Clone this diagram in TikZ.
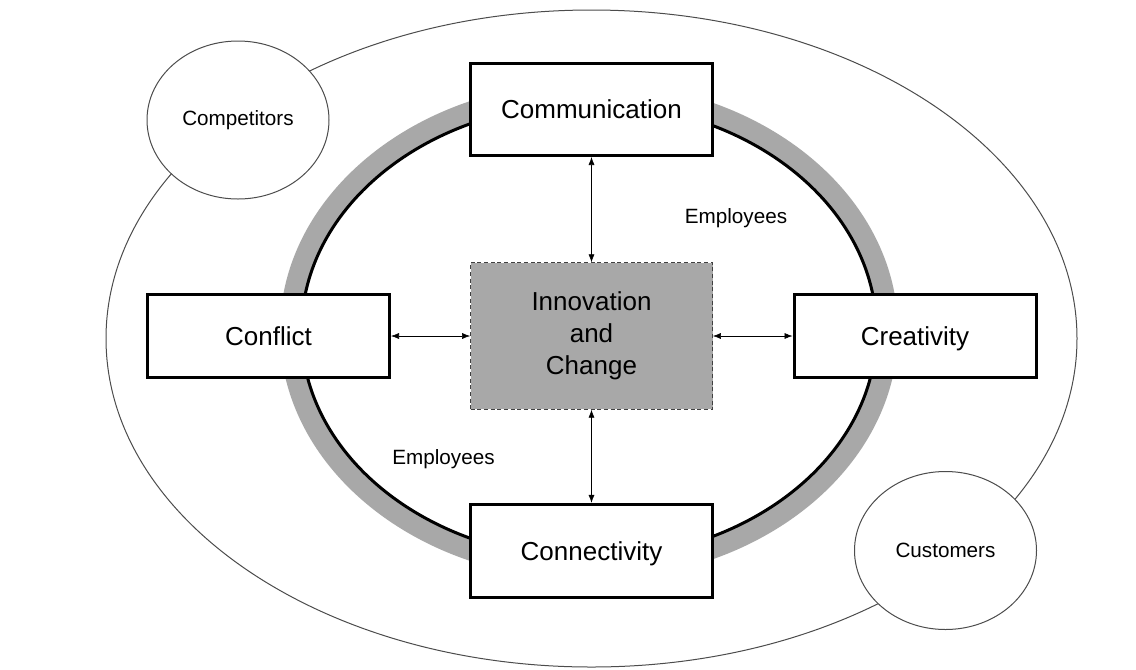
\documentclass[tikz,border=0pt]{standalone}
\usepackage{fontspec}
\setmainfont{Liberation Sans}
\usetikzlibrary{shapes.geometric,arrows.meta}
\definecolor{ringgray}{HTML}{A8A8A8}
\tikzstyle{block} = [draw, line width=2.25pt, fill=white, minimum width=181.5pt, inner sep=2pt, text height=16pt, text depth=2pt, font=\fontsize{19.5}{24}\selectfont]
\tikzstyle{party} = [draw=black!70, line width=.75pt, fill=white, shape=ellipse, minimum width=136.5pt, minimum height=118.5pt, inner sep=0pt, font=\fontsize{15.5}{18}\selectfont]
\tikzstyle{hub} = [draw=black!75, densely dashed, line width=.6pt, fill=ringgray, minimum width=181.5pt, minimum height=110pt, align=center, font=\fontsize{19.5}{24}\selectfont]
\tikzstyle{tag} = [font=\fontsize{15.5}{18}\selectfont]

\begin{document}
\begin{tikzpicture}[x=.75pt,y=-.75pt,>={Latex[length=6pt,width=4.5pt]}]
    \useasboundingbox (0,0) rectangle (1136,669);
    % environment and ring
    \draw [black!70, line width=.75pt, fill=white] (591.5,338.5) ellipse (485.5 and 328.5);
    \fill [ringgray] (589,331) ellipse (309 and 249);
    \draw [line width=2.25pt, fill=white] (589,331) ellipse (287.5 and 227.5);
    \draw (238,120) node[party] (comp) {Competitors};
    \draw (945.5,550.5) node[party] (cust) {Customers};
    % the four Cs
    \draw (591.5,109.5) node[block, minimum height=69pt] (comm) {Communication};
    \draw (268.5,336) node[block, minimum height=62pt] (confl) {Conflict};
    \draw (915,336) node[block, minimum height=62pt] (creat) {Creativity};
    \draw (591.5,551) node[block, minimum height=70pt] (conn) {Connectivity};
    \draw (591.5,336) node[hub] (innov) {Innovation\\and\\Change};
    \draw [<->] (comm) -- (innov);
    \draw [<->] (innov) -- (conn);
    \draw [<->] (confl) -- (innov);
    \draw [<->] (innov) -- (creat);
    \node[tag] (emp1) at (736,218) {Employees};
    \node[tag] (emp2) at (443.5,459) {Employees};
\end{tikzpicture}
\end{document}
